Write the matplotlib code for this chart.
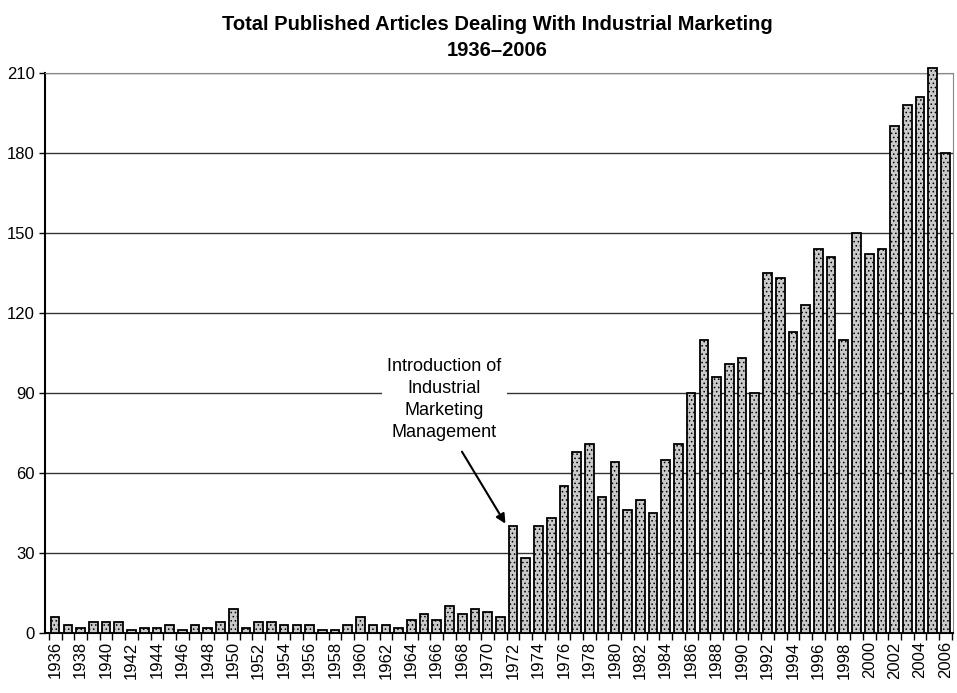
import matplotlib.pyplot as plt
import numpy as np

plt.rcParams['font.family'] = ['Liberation Sans', 'DejaVu Sans']
plt.rcParams['hatch.color'] = '#9a9a9a'
plt.rcParams['hatch.linewidth'] = 0.6

# Articles per year
years = list(range(1936, 2007))
articles = [
    6, 3, 2, 4, 4, 4, 1, 2, 2, 3,        # 1936-1945
    1, 3, 2, 4, 9, 2, 4, 4, 3, 3,        # 1946-1955
    3, 1, 1, 3, 6, 3, 3, 2, 5, 7,        # 1956-1965
    5, 10, 7, 9, 8, 6, 40, 28, 40, 43,   # 1966-1975
    55, 68, 71, 51, 64, 46, 50, 45, 65, 71,        # 1976-1985
    90, 110, 96, 101, 103, 90, 135, 133, 113, 123,  # 1986-1995
    144, 141, 110, 150, 142, 144, 190, 198, 201, 212,  # 1996-2005
    180,                                  # 2006
]
yticks = [0, 30, 60, 90, 120, 150, 180, 210]
tick_years = years[::2]

fig = plt.figure(figsize=(9.57, 6.93), dpi=100)
ax = fig.add_axes([0.047, 0.0866, 0.949, 0.808])

bars = ax.bar(years, articles, width=0.68, color='#cacaca', edgecolor='black',
              linewidth=1.3, zorder=3, hatch='....')
for b in bars:
    b.set_clip_on(False)

ax.set_ylim(0, 210)
ax.set_xlim(1935.2, 2006.6)
ax.set_yticks(yticks)
ax.set_yticklabels([str(v) for v in yticks], fontsize=12)
ax.yaxis.grid(True, color='#333333', linewidth=1.0, zorder=0)
ax.tick_params(axis='y', length=4, width=1)

ax.set_xticks(tick_years)
ax.set_xticklabels([str(y) for y in tick_years], rotation=90, fontsize=12)
ax.set_xticks(np.arange(1935.5, 2007, 1), minor=True)
ax.tick_params(axis='x', which='major', length=0, pad=6)
ax.tick_params(axis='x', which='minor', length=5, width=1)

ax.spines['left'].set_linewidth(1.5)
ax.spines['bottom'].set_linewidth(1.5)
ax.spines['top'].set_color('#888888')
ax.spines['top'].set_linestyle((0, (2, 1)))
ax.spines['right'].set_color('#888888')

ax.annotate('Introduction of\nIndustrial\nMarketing\nManagement',
            xy=(1971.4, 41), xytext=(1966.6, 87.5),
            ha='center', va='center', fontsize=13, linespacing=1.4,
            bbox=dict(boxstyle='square,pad=0.3', fc='white', ec='none'),
            arrowprops=dict(arrowstyle='-|>', color='black', lw=1.5,
                            shrinkA=4, shrinkB=0, mutation_scale=14,
                            relpos=(0.6, 0.0)),
            zorder=4)

fig.text(0.52, 0.978, 'Total Published Articles Dealing With Industrial Marketing\n1936\u20132006',
         ha='center', va='top', fontsize=14.5, fontweight='bold', linespacing=1.45)

fig.savefig('out.png', dpi=100)
